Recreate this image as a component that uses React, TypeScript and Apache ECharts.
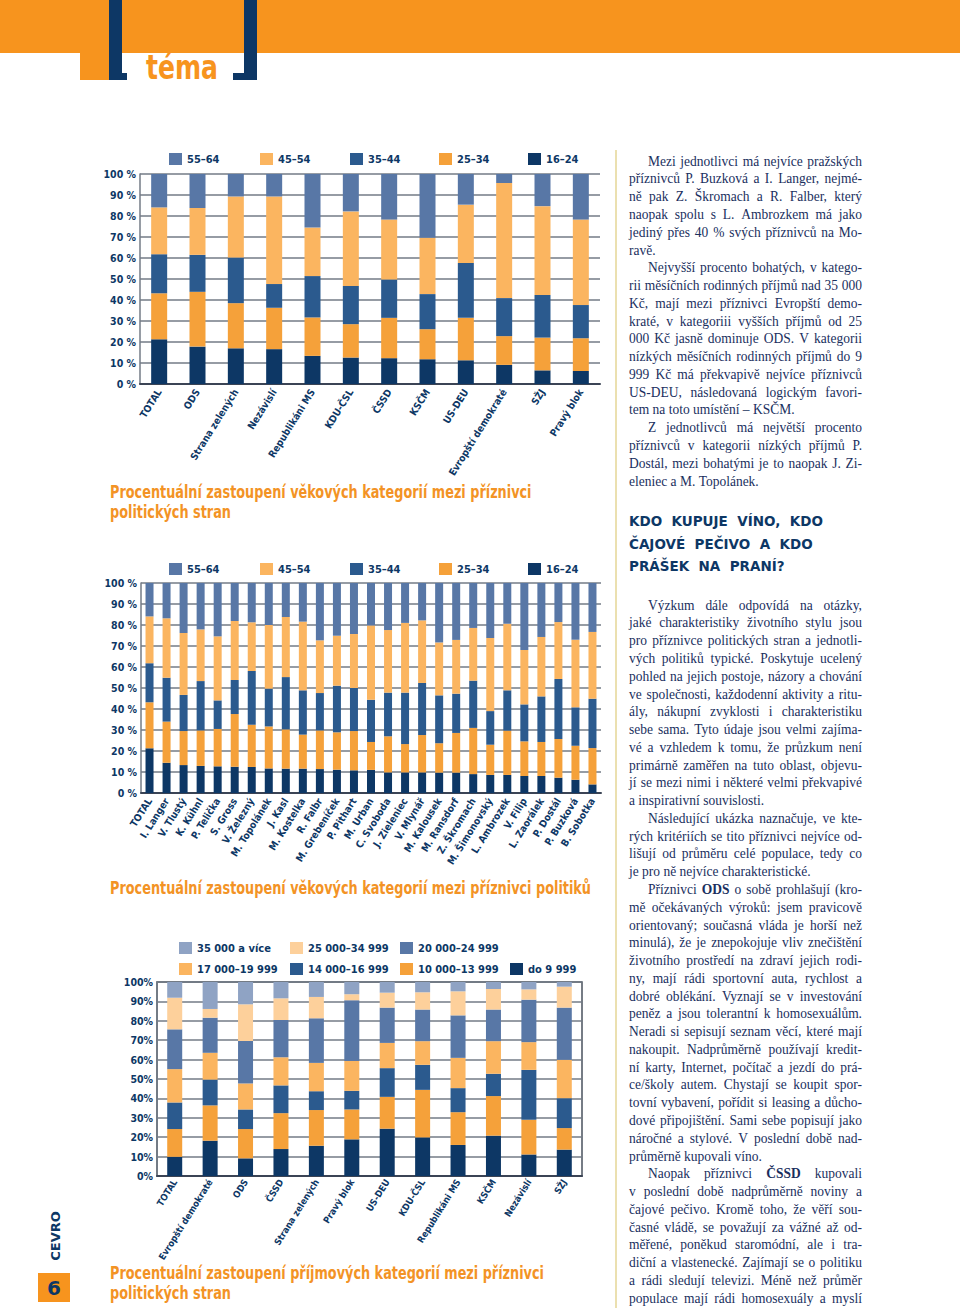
import React, { useEffect, useRef } from "react";
import * as echarts from "echarts";

// ---------- colours ----------
const ORANGE = "#f7941e";
const TITLE_ORANGE = "#f39325";
const NAVY = "#0d3765";
const TEXT_NAVY = "#1a2f5e";
const C_5564 = "#5877a6";
const C_4554 = "#fbb560";
const C_3544 = "#2b5a8e";
const C_2534 = "#f5a13a";
const C_1624 = "#0d3765";
const C_INC = ["#0d3765", "#f5a13a", "#2b5a8e", "#fbb560", "#5877a6", "#fdd09b", "#8fa3c4"];

const COND = "'Liberation Sans Narrow', 'DejaVu Sans Condensed', 'Arial Narrow', sans-serif";
const SERIF_NAME = "Liberation Serif";
const SERIF = "'Liberation Serif', 'DejaVu Serif', serif";

// ---------- chart 1: age by party ----------
const ageGroups = ["55–64", "45–54", "35–44", "25–34", "16–24"];
const partiesAge = ["TOTAL", "ODS", "Strana zelených", "Nezávislí", "Republikáni MS", "KDU-ČSL", "ČSSD", "KSČM", "US-DEU", "Evropští demokraté", "SŽJ", "Pravý blok"];
const pA1624 = [21.3, 17.8, 17.0, 16.6, 13.4, 12.6, 12.3, 11.8, 11.3, 9.1, 6.5, 6.2];
const pA2534 = [21.9, 26.1, 21.5, 19.7, 18.3, 15.9, 19.2, 14.3, 20.2, 13.7, 15.6, 15.6];
const pA3544 = [18.6, 17.6, 21.7, 11.3, 19.7, 18.2, 18.3, 16.7, 26.1, 18.1, 20.3, 15.8];
const pA4554 = [22.3, 22.3, 29.1, 41.7, 23.1, 35.5, 28.5, 26.9, 27.8, 54.8, 42.3, 40.7];
const pA5564 = [15.9, 16.2, 10.7, 10.7, 25.5, 17.8, 21.7, 30.3, 14.6, 4.3, 15.3, 21.7];

// ---------- chart 2: age by politician ----------
const politicians = ["TOTAL", "I. Langer", "V. Tlustý", "K. Kühnl", "P. Telička", "S. Gross", "V. Železný", "M. Topolánek", "J. Kasl", "M. Kostelka", "R. Falbr", "M. Grebeníček", "P. Pithart", "M. Urban", "C. Svoboda", "J. Zieleniec", "V. Mlynář", "M. Kalousek", "M. Ransdorf", "Z. Škromach", "M. Šimonovský", "L. Ambrozek", "V. Filip", "L. Zaorálek", "P. Dostál", "P. Buzková", "B. Sobotka"];
const poA1624 = [21.3, 14.4, 13.3, 12.9, 12.7, 12.5, 12.4, 11.7, 11.6, 11.6, 11.4, 11.1, 10.8, 11.0, 9.8, 9.8, 9.8, 9.7, 9.7, 9.0, 8.6, 8.6, 8.1, 8.1, 7.3, 6.3, 4.1];
const poA2534 = [21.9, 19.6, 16.2, 16.9, 17.8, 25.1, 20.1, 20.0, 18.7, 16.2, 18.4, 17.8, 18.7, 13.3, 17.2, 13.5, 17.8, 14.0, 18.9, 22.0, 14.4, 21.1, 16.5, 16.2, 18.4, 16.2, 17.3];
const poA3544 = [18.6, 20.9, 17.2, 23.5, 13.6, 16.2, 25.6, 18.0, 24.9, 21.1, 17.8, 22.2, 20.5, 20.1, 20.8, 24.5, 24.8, 22.8, 18.7, 22.5, 16.0, 19.2, 17.6, 21.7, 28.6, 18.3, 23.5];
const poA4554 = [22.3, 28.3, 29.5, 24.6, 30.5, 28.1, 23.2, 30.3, 28.6, 32.7, 25.1, 23.8, 25.7, 35.4, 29.8, 33.2, 29.8, 25.2, 25.6, 25.1, 34.8, 31.7, 25.9, 28.3, 27.1, 32.2, 31.8];
const poA5564 = [15.9, 16.8, 23.8, 22.1, 25.4, 18.1, 18.7, 20.0, 16.2, 18.4, 27.3, 25.1, 24.3, 20.2, 22.4, 19.0, 17.8, 28.3, 27.1, 21.4, 26.2, 19.4, 31.9, 25.7, 18.6, 27.0, 23.3];

// ---------- chart 3: income by party ----------
const incomeGroups = ["do 9 999", "10 000–13 999", "14 000–16 999", "17 000–19 999", "20 000–24 999", "25 000–34 999", "35 000 a více"];
const partiesInc = ["TOTAL", "Evropští demokraté", "ODS", "ČSSD", "Strana zelených", "Pravý blok", "US-DEU", "KDU-ČSL", "Republikáni MS", "KSČM", "Nezávislí", "SŽJ"];
const inc0 = [9.9, 18.2, 9.1, 13.9, 15.6, 18.9, 24.4, 19.9, 16.0, 20.8, 11.1, 13.6];
const inc1 = [14.3, 18.2, 15.1, 18.5, 18.4, 15.4, 16.4, 24.5, 16.9, 20.4, 17.9, 11.1];
const inc2 = [13.7, 13.3, 10.1, 14.3, 9.7, 9.6, 14.8, 12.9, 12.4, 11.5, 25.7, 15.4];
const inc3 = [17.2, 13.8, 13.4, 14.5, 14.6, 15.4, 13.0, 12.2, 15.6, 16.8, 14.3, 19.8];
const inc4 = [20.5, 18.1, 21.9, 19.2, 23.0, 31.3, 18.2, 16.3, 21.9, 16.3, 21.9, 26.9];
const inc5 = [16.3, 4.5, 18.9, 11.2, 11.0, 3.1, 7.7, 8.9, 12.4, 10.6, 5.3, 10.8];
const inc6 = [8.1, 13.9, 11.5, 8.4, 7.7, 6.3, 5.5, 5.3, 4.8, 3.6, 3.8, 2.4];

// ---------- titles / text ----------
const title1 = ["Procentuální zastoupení věkových kategorií mezi příznivci", "politických stran"];
const title2 = ["Procentuální zastoupení věkových kategorií mezi příznivci politiků"];
const title3 = ["Procentuální zastoupení příjmových kategorií mezi příznivci", "politických stran"];

const textBlock1 = [
  "Mezi jednotlivci má nejvíce pražských",
  "příznivců P. Buzková a I. Langer, nejmé-",
  "ně pak Z. Škromach a R. Falber, který",
  "naopak spolu s L. Ambrozkem má jako",
  "jediný přes 40 % svých příznivců na Mo-",
  "ravě.",
  "Nejvyšší procento bohatých, v katego-",
  "rii měsíčních rodinných příjmů nad 35 000",
  "Kč, mají mezi příznivci Evropští demo-",
  "kraté, v kategoriii vyšších příjmů od 25",
  "000 Kč jasně dominuje ODS. V kategorii",
  "nízkých měsíčních rodinných příjmů do 9",
  "999 Kč má překvapivě nejvíce příznivců",
  "US-DEU, následovaná logickým favori-",
  "tem na toto umístění – KSČM.",
  "Z jednotlivců má největší procento",
  "příznivců v kategorii nízkých příjmů P.",
  "Dostál, mezi bohatými je to naopak J. Zi-",
  "eleniec a M. Topolánek.",
];
const indent1 = [0, 6, 15];
const last1 = [5, 14, 18];

const heading = ["KDO  KUPUJE  VÍNO,  KDO", "ČAJOVÉ  PEČIVO  A  KDO", "PRÁŠEK  NA  PRANÍ?"];

const textBlock2 = [
  "Výzkum dále odpovídá na otázky,",
  "jaké charakteristiky životního stylu jsou",
  "pro příznivce politických stran a jednotli-",
  "vých politiků typické. Poskytuje ucelený",
  "pohled na jejich postoje, názory a chování",
  "ve společnosti, každodenní aktivity a ritu-",
  "ály, nákupní zvyklosti i charakteristiku",
  "sebe sama. Tyto údaje jsou velmi zajíma-",
  "vé a vzhledem k tomu, že průzkum není",
  "primárně zaměřen na tuto oblast, objevu-",
  "jí se mezi nimi i některé velmi překvapivé",
  "a inspirativní souvislosti.",
  "Následující ukázka naznačuje, ve kte-",
  "rých kritériích se tito příznivci nejvíce od-",
  "lišují od průměru celé populace, tedy co",
  "je pro ně nejvíce charakteristické.",
  "Příznivci {b|ODS} o sobě prohlašují (kro-",
  "mě očekávaných výroků: jsem pravicově",
  "orientovaný; současná vláda je horší než",
  "minulá), že je znepokojuje vliv znečištění",
  "životního prostředí na zdraví jejich rodi-",
  "ny, mají rádi sportovní auta, rychlost a",
  "dobré oblékání. Vyznají se v investování",
  "peněz a jsou tolerantní k homosexuálům.",
  "Neradi si sepisují seznam věcí, které mají",
  "nakoupit. Nadprůměrně používají kredit-",
  "ní karty, Internet, počítač a jezdí do prá-",
  "ce/školy autem. Chystají se koupit spor-",
  "tovní vybavení, pořídit si leasing a důcho-",
  "dové připojištění. Sami sebe popisují jako",
  "náročné a stylové. V poslední době nad-",
  "průměrně kupovali víno.",
  "Naopak příznivci {b|ČSSD} kupovali",
  "v poslední době nadprůměrně noviny a",
  "čajové pečivo. Kromě toho, že věří sou-",
  "časné vládě, se považují za vážné až od-",
  "měřené, poněkud staromódní, ale i tra-",
  "diční a vlastenecké. Zajímají se o politiku",
  "a rádi sledují televizi. Méně než průměr",
  "populace mají rádi homosexuály a myslí",
];
const indent2 = [0, 12, 16, 32];
const last2 = [11, 15, 31];

// ---------- helpers ----------
const labelStyle = { color: NAVY, fontFamily: COND, fontWeight: "bold" as const, fontSize: 10.5 };

function legendItems(names: string[], xs: number[], y: number) {
  return names.map((n, i) => ({
    data: [n],
    left: xs[i],
    top: y,
    padding: 0,
    itemWidth: 13,
    itemHeight: 12,
    icon: "rect",
    selectedMode: false,
    textStyle: { ...labelStyle, fontSize: 11 },
  }));
}

function txt(x: number, y: number, text: string, style: any, extra: any = {}) {
  return {
    type: "text",
    x,
    y,
    silent: true,
    ...extra,
    style: { text, textVerticalAlign: "middle", verticalAlign: "middle", ...style },
  };
}

const BODY_FS = 14.5;
const BODY_SX = 0.93;
const COL_RIGHT = 862;

function makeMeasure() {
  const c = document.createElement("canvas");
  const ctx = c.getContext("2d")!;
  return (s: string, bold: boolean) => {
    ctx.font = `${bold ? "bold " : ""}${BODY_FS}px "${SERIF_NAME}"`;
    return ctx.measureText(s).width * BODY_SX;
  };
}

function layoutLine(out: any[], line: string, x0: number, y: number, isLast: boolean, measure: (s: string, b: boolean) => number) {
  const tokens = line
    .split(" ")
    .filter((t) => t.length > 0)
    .map((t) => {
      const m = t.match(/^\{b\|(.*)\}$/);
      return m ? { t: m[1], b: true } : { t, b: false };
    });
  const widths = tokens.map((tk) => measure(tk.t, tk.b));
  const total = widths.reduce((a, b) => a + b, 0);
  const space = measure(" ", false);
  let gap = space;
  if (!isLast && tokens.length > 1) gap = Math.max(1.5, (COL_RIGHT - x0 - total) / (tokens.length - 1));
  let x = x0;
  tokens.forEach((tk, i) => {
    out.push(
      txt(x, y, tk.t, {
        fill: TEXT_NAVY,
        fontFamily: SERIF,
        fontSize: BODY_FS,
        fontWeight: tk.b ? "bold" : "normal",
      }, { scaleX: BODY_SX })
    );
    x += widths[i] + gap;
  });
}

function buildOption() {
  const LH = 17.77;
  const measure = makeMeasure();

  const graphics: any[] = [
    // header
    { type: "rect", shape: { x: 0, y: 0, width: 960, height: 53 }, style: { fill: ORANGE }, silent: true },
    { type: "rect", shape: { x: 80, y: 53, width: 30, height: 27 }, style: { fill: ORANGE }, silent: true },
    { type: "rect", shape: { x: 109, y: 0, width: 13, height: 80 }, style: { fill: NAVY }, silent: true },
    { type: "rect", shape: { x: 109, y: 73, width: 18, height: 7 }, style: { fill: NAVY }, silent: true },
    { type: "rect", shape: { x: 244, y: 0, width: 13, height: 80 }, style: { fill: NAVY }, silent: true },
    { type: "rect", shape: { x: 233, y: 73, width: 24, height: 7 }, style: { fill: NAVY }, silent: true },
    txt(146, 67, "téma", { fill: ORANGE, fontFamily: COND, fontWeight: "bold", fontSize: 34 }, { scaleX: 0.82 }),
    // side
    txt(55, 1236, "CEVRO", { fill: NAVY, fontFamily: "'DejaVu Sans', sans-serif", fontWeight: "bold", fontSize: 13, textAlign: "center", align: "center" }, { rotation: Math.PI / 2 }),
    { type: "rect", shape: { x: 38, y: 1273, width: 32, height: 29 }, style: { fill: ORANGE }, silent: true },
    txt(54, 1288, "6", { fill: NAVY, fontFamily: "'DejaVu Sans', sans-serif", fontWeight: "bold", fontSize: 20, textAlign: "center", align: "center" }),
    // column rule
    { type: "rect", shape: { x: 615, y: 150, width: 2, height: 1158 }, style: { fill: "#ebe0b0" }, silent: true },
  ];

  const tStyle = { fill: TITLE_ORANGE, fontFamily: COND, fontWeight: "bold", fontSize: 17 };
  const tScale = { scaleX: 0.84 };
  title1.forEach((t, i) => graphics.push(txt(110, 492 + i * 20, t, tStyle, tScale)));
  title2.forEach((t, i) => graphics.push(txt(110, 888 + i * 20, t, tStyle, tScale)));
  title3.forEach((t, i) => graphics.push(txt(110, 1273 + i * 20, t, tStyle, tScale)));

  textBlock1.forEach((t, i) => {
    const x = indent1.includes(i) ? 648 : 629;
    layoutLine(graphics, t, x, 161 + i * LH, last1.includes(i), measure);
  });
  heading.forEach((t, i) =>
    graphics.push(txt(629, 521 + i * 22.5, t, { fill: NAVY, fontFamily: "'DejaVu Sans', sans-serif", fontWeight: "bold", fontSize: 13.5 }))
  );
  textBlock2.forEach((t, i) => {
    const x = indent2.includes(i) ? 648 : 629;
    layoutLine(graphics, t, x, 605 + i * LH, last2.includes(i), measure);
  });

  const splitLine = { show: true, lineStyle: { color: "#737b86", width: 1.5 } };
  const xAxisBase = (gi: number, data: string[], rotate: number, fontSize: number, margin: number) => ({
    type: "category",
    gridIndex: gi,
    data,
    axisTick: { show: false },
    axisLine: { show: true, lineStyle: { color: "#3b4455", width: 2 } },
    axisLabel: { ...labelStyle, fontSize, interval: 0, rotate, margin },
    splitLine: { show: false },
  });
  const yAxisBase = (gi: number, fmt: string) => ({
    type: "value",
    gridIndex: gi,
    min: 0,
    max: 100,
    interval: 10,
    axisLine: { show: true, lineStyle: { color: "#737b86", width: 1.5 } },
    axisTick: { show: false },
    axisLabel: { ...labelStyle, margin: 4, formatter: (v: number) => v + fmt },
    splitLine,
  });

  const ageSeries = (gi: number, data: number[][], barWidth: number) => {
    const names = ["16–24", "25–34", "35–44", "45–54", "55–64"];
    const colors = [C_1624, C_2534, C_3544, C_4554, C_5564];
    return names.map((n, i) => ({
      name: n,
      type: "bar",
      stack: "s" + gi,
      xAxisIndex: gi,
      yAxisIndex: gi,
      barWidth,
      itemStyle: { color: colors[i] },
      data: data[i],
    }));
  };
  const incSeries = [inc0, inc1, inc2, inc3, inc4, inc5, inc6].map((d, i) => ({
    name: incomeGroups[i],
    type: "bar",
    stack: "s2",
    xAxisIndex: 2,
    yAxisIndex: 2,
    barWidth: 15,
    itemStyle: { color: C_INC[i] },
    data: d,
  }));

  const legXs = [169, 260, 350, 439, 528];

  return {
    animation: false,
    backgroundColor: "#ffffff",
    grid: [
      { left: 140, top: 174, width: 460, height: 210, show: false },
      { left: 141, top: 583, width: 460, height: 210, show: false },
      { left: 157, top: 982, width: 425, height: 194, show: true, borderColor: "#4a525e", borderWidth: 1.5, backgroundColor: "transparent" },
    ],
    legend: [
      ...legendItems(ageGroups, legXs, 153),
      ...legendItems(ageGroups, legXs, 563),
      ...legendItems(["35 000 a více", "25 000–34 999", "20 000–24 999"], [179, 290, 400], 942),
      ...legendItems(["17 000–19 999", "14 000–16 999", "10 000–13 999", "do 9 999"], [179, 290, 400, 510], 963),
    ],
    xAxis: [
      xAxisBase(0, partiesAge, 58, 10, 6),
      xAxisBase(1, politicians, 58, 10, 6),
      xAxisBase(2, partiesInc, 58, 9.3, 4),
    ],
    yAxis: [yAxisBase(0, " %"), yAxisBase(1, " %"), yAxisBase(2, "%")],
    series: [
      ...ageSeries(0, [pA1624, pA2534, pA3544, pA4554, pA5564], 16),
      ...ageSeries(1, [poA1624, poA2534, poA3544, poA4554, poA5564], 8),
      ...incSeries,
    ],
    graphic: graphics,
  };
}

export default function App() {
  const ref = useRef<HTMLDivElement>(null);
  useEffect(() => {
    document.body.style.margin = "0";
    const chart = echarts.init(ref.current!, null, { renderer: "svg", width: 960, height: 1308 });
    chart.setOption(buildOption() as any);
    return () => chart.dispose();
  }, []);
  return (
    <div
      ref={ref}
      style={{ width: 960, height: 1308, position: "absolute", left: 0, top: 0, background: "#fff" }}
    />
  );
}
